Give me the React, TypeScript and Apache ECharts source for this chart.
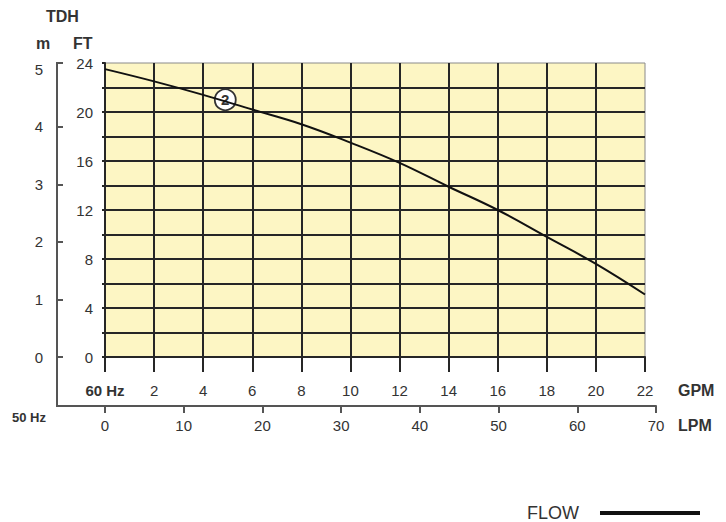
import React, { useEffect, useRef } from "react";
import * as echarts from "echarts";

// Flow in GPM (60 Hz) and total dynamic head in feet
const flowGpm = [0, 2, 4, 6, 8, 10, 12, 14, 16, 18, 20, 22];
const headFt = [23.5, 22.5, 21.4, 20.2, 19.0, 17.5, 15.85, 13.9, 12.0, 9.8, 7.6, 5.1];
// Curve label position (GPM, FT)
const curveLabel = { gpm: 4.9, ft: 21.0, text: "2" };
// Secondary scales
const meterLabels = [0, 1, 2, 3, 4, 5];
const meterTicks = [0, 1, 2, 3, 4];
const meterMax = 5.113; // metres equal to the 24 ft top of the chart on this scale
const lpmMax = 70;

const FONT = "'Liberation Sans', Arial, Helvetica, sans-serif";
const TXT = "#333";
const GRIDLINE = "#262626";

export default function App() {
  const ref = useRef<HTMLDivElement>(null);
  useEffect(() => {
    if (!ref.current) return;
    const chart = echarts.init(ref.current, null, { renderer: "svg" });
    const option: any = {
      animation: false,
      backgroundColor: "#ffffff",
      textStyle: { fontFamily: FONT },
      legend: {
        data: ["FLOW"],
        left: 522,
        top: 499,
        align: "right",
        icon: "rect",
        itemWidth: 100,
        itemHeight: 4,
        itemGap: 0,
        textStyle: { fontSize: 18, color: TXT, fontFamily: FONT, padding: [0, 16, 0, 0] },
      },
      grid: [
        {
          left: 105, right: 81, top: 63, height: 294,
          show: true, backgroundColor: "#fdf6c4", borderColor: "#8a8a8a", borderWidth: 1,
        },
        { left: 105, right: 70, top: 63, height: 343, show: false },
      ],
      xAxis: [
        {
          type: "value", gridIndex: 0, min: 0, max: 22, interval: 2,
          axisLine: { show: true, lineStyle: { color: GRIDLINE, width: 2 } },
          axisTick: { show: true, length: 15, lineStyle: { color: GRIDLINE, width: 2 } },
          splitLine: { show: true, showMinLine: false, showMaxLine: false, lineStyle: { color: GRIDLINE, width: 2 } },
          axisLabel: {
            margin: 26, fontSize: 15, color: TXT, fontFamily: FONT,
            formatter: (v: number) => (v === 0 ? "{b|60 Hz}" : String(v)),
            rich: { b: { fontWeight: "bold", fontSize: 15, color: TXT, fontFamily: FONT } },
          },
        },
        {
          type: "value", gridIndex: 1, min: 0, max: lpmMax, interval: 10,
          axisLine: { show: true, lineStyle: { color: "#555", width: 2 } },
          axisTick: { show: true, length: 7, lineStyle: { color: "#555", width: 2 } },
          splitLine: { show: false },
          axisLabel: { margin: 12, fontSize: 15, color: TXT, fontFamily: FONT },
        },
      ],
      yAxis: [
        {
          type: "value", gridIndex: 0, min: 0, max: 24, interval: 2,
          axisLine: { show: true, lineStyle: { color: GRIDLINE, width: 2 } },
          axisTick: { show: true, length: 3, lineStyle: { color: GRIDLINE, width: 2 } },
          splitLine: { show: true, showMinLine: false, showMaxLine: false, lineStyle: { color: GRIDLINE, width: 2 } },
          axisLabel: {
            margin: 12, fontSize: 15, color: TXT, fontFamily: FONT,
            formatter: (v: number) => (v % 4 === 0 ? String(v) : ""),
          },
        },
        {
          type: "value", gridIndex: 0, position: "left", offset: 48, min: 0, max: meterMax,
          axisLine: { show: false },
          axisTick: { show: true, inside: true, length: 6, customValues: meterTicks, lineStyle: { color: "#555", width: 2 } },
          splitLine: { show: false },
          axisLabel: { margin: 14, fontSize: 15, color: TXT, fontFamily: FONT, customValues: meterLabels },
        },
        { type: "value", gridIndex: 1, show: false, min: 0, max: 1 },
      ],
      series: [
        {
          name: "FLOW",
          type: "line",
          xAxisIndex: 0,
          yAxisIndex: 0,
          data: flowGpm.map((g, i) => [g, headFt[i]]),
          smooth: 0.4,
          showSymbol: false,
          symbol: "none",
          itemStyle: { color: "#111" },
          lineStyle: { color: "#111", width: 2 },
          z: 5,
          markPoint: {
            symbol: "circle",
            symbolSize: 21,
            itemStyle: { color: "#ffffff", borderColor: "#333", borderWidth: 1.8 },
            label: { show: true, position: "inside", formatter: curveLabel.text, fontWeight: "bold", fontSize: 15, color: "#333", fontFamily: FONT },
            data: [{ coord: [curveLabel.gpm, curveLabel.ft] }],
          },
        },
      ],
      graphic: [
        {
          type: "polyline",
          shape: { points: [[63, 63], [57, 63], [57, 406], [106, 406]] },
          style: { stroke: "#555", lineWidth: 2, fill: "none" },
          silent: true,
        },
        { type: "text", left: 46, top: 8, style: { text: "TDH", fontWeight: "bold", fontSize: 16, fill: TXT, fontFamily: FONT } },
        { type: "text", left: 36, top: 35, style: { text: "m", fontWeight: "bold", fontSize: 16, fill: TXT, fontFamily: FONT } },
        { type: "text", left: 73, top: 35, style: { text: "FT", fontWeight: "bold", fontSize: 16, fill: TXT, fontFamily: FONT } },
        { type: "text", left: 678, top: 382, style: { text: "GPM", fontWeight: "bold", fontSize: 16, fill: TXT, fontFamily: FONT } },
        { type: "text", left: 678, top: 417, style: { text: "LPM", fontWeight: "bold", fontSize: 16, fill: TXT, fontFamily: FONT } },
        { type: "text", left: 12, top: 411, style: { text: "50 Hz", fontWeight: "bold", fontSize: 13, fill: TXT, fontFamily: FONT } },
      ],
    };
    chart.setOption(option);
    return () => chart.dispose();
  }, []);
  return <div ref={ref} style={{ position: "fixed", left: 0, top: 0, width: 726, height: 522 }} />;
}
